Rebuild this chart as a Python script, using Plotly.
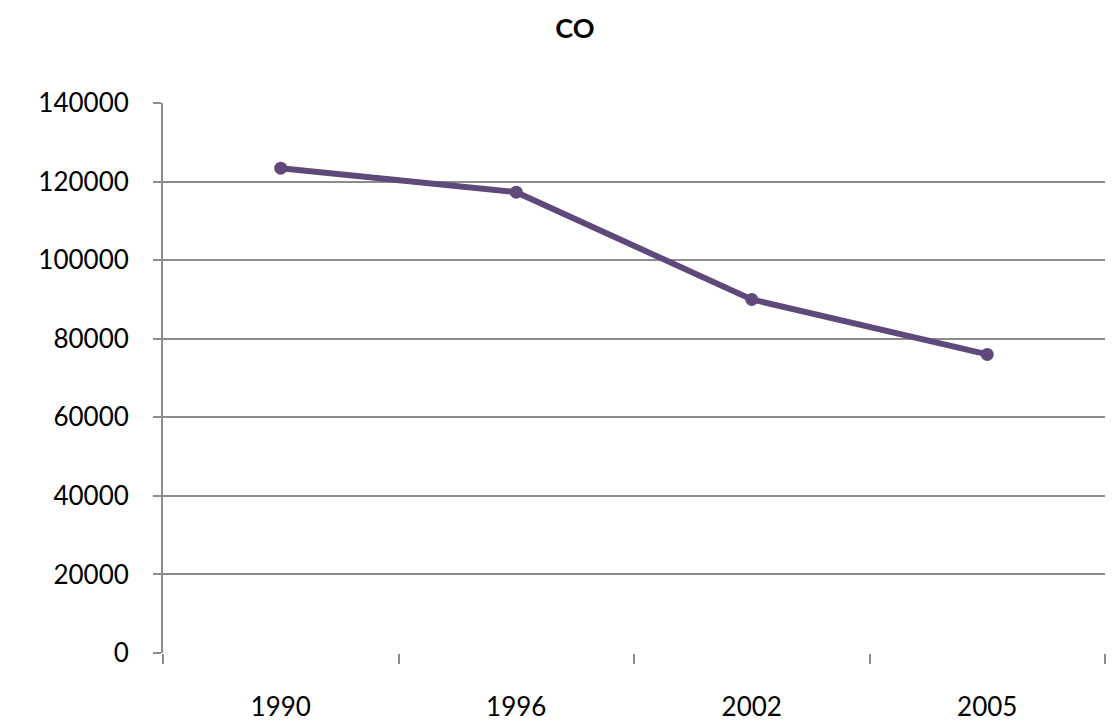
import plotly.graph_objects as go

years = ['1990', '1996', '2002', '2005']
co_values = [123400, 117300, 90000, 76000]
y_ticks = [0, 20000, 40000, 60000, 80000, 100000, 120000, 140000]

grey = '#8c8c8c'
font = 'Lato, "Liberation Sans", sans-serif'

fig = go.Figure()
fig.add_trace(go.Scatter(
    x=years,
    y=co_values,
    mode='lines+markers',
    line=dict(color='#5F497A', width=6),
    marker=dict(color='#5F497A', size=13),
    showlegend=False,
))

# the page body has an 8px margin, so the figure is sized and offset for it
fig.update_layout(
    width=1104,
    height=722,
    paper_bgcolor='white',
    plot_bgcolor='white',
    margin=dict(l=155, r=7, t=95, b=77),
    font=dict(family=font, size=26, color='#000000'),
    title=dict(
        text='<b>CO</b>',
        font=dict(family=font, size=27, color='#000000'),
        x=567 / 1104,
        xanchor='center',
        y=1 - 21 / 722,
        yanchor='middle',
    ),
)

fig.update_xaxes(
    type='category',
    range=[-0.5, 3.5],
    tickson='boundaries',
    ticks='outside',
    ticklen=10,
    tickwidth=2,
    tickcolor=grey,
    showgrid=False,
    showline=False,
    zeroline=False,
    ticklabelstandoff=36,
    automargin=False,
)

fig.update_yaxes(
    range=[0, 140000],
    tickvals=y_ticks,
    ticktext=[str(v) for v in y_ticks],
    ticks='outside',
    ticklen=8,
    tickwidth=2,
    tickcolor=grey,
    showgrid=True,
    gridcolor=grey,
    gridwidth=2,
    showline=True,
    linecolor=grey,
    linewidth=2,
    zeroline=False,
    ticklabelstandoff=19,
    automargin=False,
)

fig.write_html('out.html')
